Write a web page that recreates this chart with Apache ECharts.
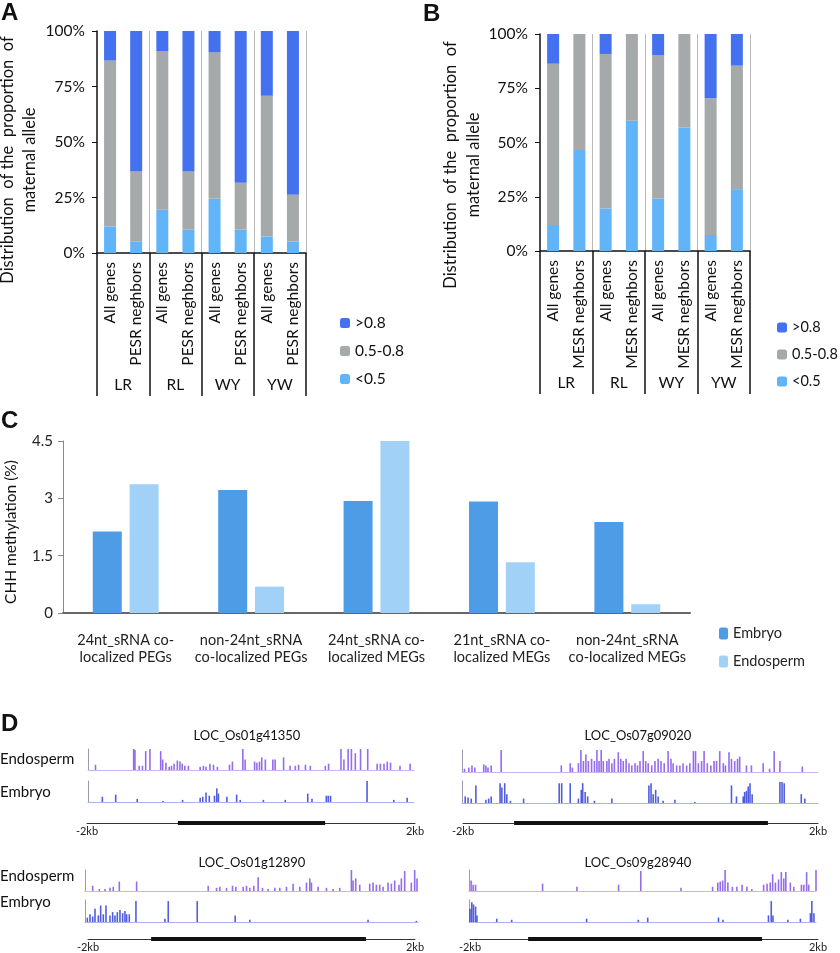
<!DOCTYPE html>
<html>
<head>
<meta charset="utf-8">
<script src="https://cdn.jsdelivr.net/npm/echarts@6/dist/echarts.min.js"></script>
<style>
  html, body { margin: 0; padding: 0; background: #fff; }
  #main { width: 840px; height: 953px; }
</style>
</head>
<body>
<div id="main"></div>
<script>
// ---- panel A / B : distribution of the proportion of maternal allele ----
var groups = ['LR', 'RL', 'WY', 'YW'];
var aCategories = ['All genes', 'PESR neghbors', 'All genes', 'PESR neghbors',
                   'All genes', 'PESR neghbors', 'All genes', 'PESR neghbors'];
var bCategories = ['All genes', 'MESR neghbors', 'All genes', 'MESR neghbors',
                   'All genes', 'MESR neghbors', 'All genes', 'MESR neghbors'];
var legendNames = ['>0.8', '0.5-0.8', '<0.5'];

var aLow  = [12.0, 5.1, 19.5, 10.5, 24.4, 10.5, 7.5, 5.1];
var aMid  = [74.7, 31.6, 71.5, 26.2, 66.0, 21.1, 63.3, 21.1];
var aHigh = [13.3, 63.3, 9.0, 63.3, 9.6, 68.4, 29.2, 73.8];

var bLow  = [12.0, 46.5, 19.6, 60.0, 24.2, 56.9, 7.4, 28.5];
var bMid  = [74.3, 53.5, 71.2, 40.0, 66.0, 43.1, 63.0, 56.9];
var bHigh = [13.7, 0, 9.2, 0, 9.8, 0, 29.6, 14.6];

// ---- panel C : CHH methylation ----
var cCategories = ['24nt_sRNA co-\nlocalized PEGs', 'non-24nt_sRNA\nco-localized PEGs',
                   '24nt_sRNA co-\nlocalized MEGs', '21nt_sRNA co-\nlocalized MEGs',
                   'non-24nt_sRNA\nco-localized MEGs'];
var embryoChh    = [2.13, 3.22, 2.93, 2.92, 2.38];
var endospermChh = [3.37, 0.69, 4.50, 1.33, 0.23];

// ---- panel D : tracks, [position % of window, relative height] ----
var geneNames = ['LOC_Os01g41350', 'LOC_Os07g09020', 'LOC_Os01g12890', 'LOC_Os09g28940'];
var geneBodies = [[27.7, 72.6], [14.4, 85.9], [19.3, 85.0], [16.7, 83.9]];
var windowLabels = ['-2kb', '2kb'];

var endo1 = [[2.3,0.25],[14,1],[14.4,0.95],[15.7,0.2],[16.7,0.2],[17.7,0.9],[19,1],[22.3,0.9],[22.9,0.5],
  [23.9,0.35],[24.9,0.15],[25.6,0.2],[26.4,0.3],[27.4,0.45],[28.2,0.4],[28.9,0.3],[29.7,0.2],[30.8,0.2],
  [34.4,0.15],[35.4,0.2],[36.2,0.15],[37.4,0.3],[38.5,0.25],[39.7,0.15],[43.4,0.25],[44.3,0.4],
  [47.5,1],[48.2,0.5],[51.1,0.4],[51.8,0.35],[52.6,0.4],[53.3,0.6],[54.4,0.5],[56.7,0.5],[57.4,0.5],[60,0.6],
  [62,0.2],[63.6,0.2],[64.6,0.25],[66.7,0.25],[68.2,0.2],[72.8,0.2],[73.8,0.3],
  [77.6,1],[78.5,0.5],[79.8,1],[80.8,1],[82,0.8],[83.6,1],[85.8,1],
  [88.7,0.3],[89.7,0.3],[90.8,0.3],[91.8,0.4],[92.8,0.35],[95.7,0.2],[98.8,0.3]];
var emb1 = [[4.4,0.25],[8.5,0.35],[15.1,0.15],[23,0.05],[29,0.1],[34.4,0.2],[35.2,0.25],[36.2,0.45],[37.2,0.3],
  [38.8,0.3],[39.5,0.65],[40,0.4],[42.6,0.25],[45.6,0.35],[46.7,0.1],[53.8,0.1],[60.5,0.1],
  [67.4,0.4],[68.7,0.15],[73.1,0.3],[73.7,0.3],[74.4,0.3],[85.6,1],[93.8,0.1],[97.9,0.2]];

var endo2 = [[0.7,0.15],[1.9,0.2],[2.8,0.3],[3.6,0.2],[6.1,0.35],[6.7,0.3],[7.3,0.2],[8.2,0.3],[11,1],
  [27.9,0.3],[30.4,0.4],[31,0.2],[32.7,0.4],[33.4,1],[34.1,0.5],[34.8,0.8],[35.5,0.5],[36.4,0.6],[37.2,0.5],
  [37.9,1],[38.5,0.5],[39.1,1],[39.7,0.5],[40.7,0.5],[41.3,0.6],[42.1,0.4],[42.8,0.6],[43.9,0.9],[44.6,0.6],
  [45.3,0.5],[46.1,0.6],[46.9,0.4],[47.7,0.3],[48.6,0.4],[49.3,0.3],[50,0.5],[50.9,0.95],[51.6,0.5],[52.3,0.4],
  [53.3,0.3],[54.2,0.5],[55.1,0.6],[55.9,0.5],[56.8,0.4],[57.9,0.95],[58.7,0.6],[59.3,0.4],[60.3,0.3],[61.2,0.3],
  [62.1,0.4],[63.1,0.3],[64,0.4],[65,0.95],[65.6,0.95],[66.4,0.4],[67.3,0.5],[68,0.95],[68.9,0.4],[69.9,0.3],
  [70.8,0.5],[71.5,0.5],[72.4,0.95],[73.4,0.4],[74,0.3],[75,0.9],[75.7,0.6],[76.6,0.5],[77.4,0.6],[78,0.7],
  [79.9,0.3],[81.3,0.3],[84.6,0.4],[86.4,0.15],[87.7,0.95],[89.3,0.5],[95.6,0.25]];
var emb2 = [[0.9,0.3],[1.7,0.25],[2.6,0.2],[3.9,0.8],[6.7,0.15],[7.5,0.2],[8.2,0.3],[10.7,0.9],[11.2,0.7],
  [12,0.9],[12.6,0.4],[13.6,0.1],[17.3,0.2],[27.3,0.9],[28,0.9],[30.4,0.9],[32.7,0.2],[33.5,0.6],[33.9,0.9],
  [34.6,0.5],[35.3,0.3],[37.2,0.1],[42.1,0.2],[52.5,0.8],[53.1,0.9],[53.7,0.4],[54.4,0.6],[55.1,0.3],
  [56.5,0.1],[59.8,0.15],[65.4,0.05],[75.7,0.8],[77.1,0.3],[79,0.3],[79.4,0.5],[79.9,0.55],[80.4,0.75],
  [80.9,0.9],[81.5,0.4],[89.3,0.95],[89.9,0.95],[90.5,0.9],[95.3,0.4],[96.3,0.2]];

var endo3 = [[2.3,0.25],[4.3,0.1],[6,0.1],[7.5,0.15],[8.5,0.2],[10.3,0.45],[15.5,0.45],[37,0.25],[39.5,0.15],
  [40.5,0.2],[42.5,0.15],[44.3,0.25],[45.3,0.2],[47.5,0.2],[48.5,0.25],[49.5,0.15],[50.7,0.25],[52,0.65],
  [53.3,0.15],[55,0.1],[57,0.15],[58.5,0.15],[60.5,0.2],[62.5,0.35],[64.5,0.2],[66.5,0.4],[67.5,0.6],[68,0.4],
  [70,0.2],[72.5,0.15],[74.5,0.1],[76.5,0.15],[80,1],[80.5,0.5],[81.3,0.6],[82.5,0.3],[85.5,0.35],[86.5,0.4],
  [87.5,0.3],[88.5,0.3],[89.5,0.2],[91,0.4],[92,0.35],[93,0.5],[94.3,0.3],[95,0.6],[96,0.95],[98,0.4],
  [99,1],[99.7,0.6]];
var emb3 = [[0.7,0.2],[1.5,0.35],[2.3,0.25],[3,0.6],[4,0.3],[4.7,0.75],[5.5,0.35],[6.3,0.75],[7.5,0.3],
  [8.3,0.45],[9,0.3],[9.7,0.45],[10.5,0.55],[11.3,0.4],[12,0.5],[12.5,0.35],[13.3,0.35],[15.3,0.95],
  [24,0.15],[25,0.95],[33.7,0.95],[45.1,0.3],[49.5,0.1],[85,0.1],[99.5,0.05]];

var endo4 = [[0.6,0.5],[1.2,0.3],[1.9,0.3],[21.2,0.35],[31.1,0.2],[43.1,0.3],[49.5,0.95],[61.1,0.15],[70.2,0.2],
  [71.7,0.4],[72.4,0.45],[73.1,0.5],[73.8,1],[74.6,0.4],[75.9,0.2],[77.2,0.2],[78.7,0.3],[80.1,0.2],[81.5,0.1],
  [84.9,0.3],[85.9,0.35],[86.8,0.4],[87.5,0.8],[88.3,0.4],[89.2,0.55],[90,0.9],[90.7,0.6],[91.3,0.9],
  [92.6,0.4],[93.6,0.2],[95.8,0.3],[96.5,0.3],[97.3,0.9],[97.9,0.3],[100,1]];
var emb4 = [[0.3,0.6],[0.8,0.9],[1.3,0.8],[1.9,0.7],[2.3,0.3],[8,0.15],[12.3,0.1],[33.9,0.15],[48.8,0.1],
  [51.5,0.2],[71.9,0.2],[73.2,0.1],[86.3,0.3],[87.1,0.95],[87.6,0.3],[91.9,0.1],[95.5,0.15],
  [98.4,0.4],[98.8,0.95],[99.4,0.4]];

var cDark = '#4371EF', cGray = '#A6A9A9', cLight = '#62B4F8';
var cEmbryo = '#4E9CE6', cEndo = '#A2D1F7';
var font = 'Lato';

var chart = echarts.init(document.getElementById('main'));

var grids = [
    {left: 97, top: 31, width: 209, height: 222},
    {left: 540, top: 34, width: 210, height: 217},
    {left: 63, top: 441, width: 627, height: 172}
];
var xAxes = [];
var yAxes = [];
var series = [];

// stacked 100% panels
function stackedPanel(gi, cats, low, mid, high, stackName) {
    var xi = xAxes.length;
    xAxes.push({
        type: 'category', gridIndex: gi, data: cats, position: 'bottom',
        axisLine: {lineStyle: {color: '#111', width: 1.5}},
        axisTick: {show: false},
        axisLabel: {rotate: 90, interval: 0, margin: 9, fontSize: 15.5, color: '#111', fontFamily: font},
        splitLine: {show: true, interval: function (i) { return i === 2 || i === 4 || i === 6; },
                    lineStyle: {color: '#b8b8b8', width: 1}}
    });
    xAxes.push({
        type: 'category', gridIndex: gi, data: groups, position: 'bottom',
        axisLine: {show: false},
        axisTick: {show: true, length: 143, interval: 0, lineStyle: {color: '#111', width: 1.5}},
        axisLabel: {interval: 0, margin: 124, fontSize: 15.5, color: '#111', fontFamily: font},
        splitLine: {show: false}
    });
    var yi = yAxes.length;
    yAxes.push({
        type: 'value', gridIndex: gi, min: 0, max: 100, interval: 25,
        axisLine: {show: true, lineStyle: {color: '#111', width: 1.5}},
        axisTick: {show: true, length: 5, lineStyle: {color: '#111'}},
        axisLabel: {formatter: '{value}%', margin: 12, fontSize: 15.5, color: '#111', fontFamily: font},
        splitLine: {show: false}
    });
    var parts = [['<0.5', low, cLight], ['0.5-0.8', mid, cGray], ['>0.8', high, cDark]];
    parts.forEach(function (p) {
        series.push({
            name: p[0], type: 'bar', stack: stackName, xAxisIndex: xi, yAxisIndex: yi,
            barWidth: 12, data: p[1], itemStyle: {color: p[2]}
        });
    });
}
stackedPanel(0, aCategories, aLow, aMid, aHigh, 'a');
stackedPanel(1, bCategories, bLow, bMid, bHigh, 'b');

// panel C
xAxes.push({
    type: 'category', gridIndex: 2, data: cCategories,
    axisLine: {lineStyle: {color: '#666', width: 2}},
    axisTick: {show: false},
    axisLabel: {interval: 0, margin: 19, fontSize: 14.5, lineHeight: 17, color: '#222', fontFamily: font}
});
yAxes.push({
    type: 'value', gridIndex: 2, min: 0, max: 4.5, interval: 1.5,
    axisLine: {show: true, lineStyle: {color: '#888', width: 1}},
    axisTick: {show: true, length: 5, lineStyle: {color: '#888'}},
    axisLabel: {margin: 10, fontSize: 15, color: '#222', fontFamily: font},
    splitLine: {show: false}
});
series.push({name: 'Embryo', type: 'bar', xAxisIndex: 4, yAxisIndex: 2, barWidth: 29, barGap: '27%',
             data: embryoChh, itemStyle: {color: cEmbryo}});
series.push({name: 'Endosperm', type: 'bar', xAxisIndex: 4, yAxisIndex: 2, barWidth: 29, barGap: '27%',
             data: endospermChh, itemStyle: {color: cEndo}});

// panel D tracks
var trackBoxes = [
    [88, 749, 326, 21, endo1, 'endo'], [88, 781, 326, 21, emb1, 'emb'],
    [462, 750, 356, 22, endo2, 'endo'], [462, 781, 356, 22, emb2, 'emb'],
    [85, 870, 333, 21, endo3, 'endo'], [85, 900, 333, 22, emb3, 'emb'],
    [469, 870, 347, 21, endo4, 'endo'], [469, 900, 347, 22, emb4, 'emb']
];
trackBoxes.forEach(function (t) {
    var gi = grids.length;
    grids.push({left: t[0], top: t[1], width: t[2], height: t[3]});
    var isEndo = t[5] === 'endo';
    var xi = xAxes.length, yi = yAxes.length;
    xAxes.push({type: 'value', gridIndex: gi, min: 0, max: 100,
        axisLine: {show: true, onZero: false, lineStyle: {color: isEndo ? '#CDB4F2' : '#A9B1EE', width: 1}},
        axisTick: {show: false}, axisLabel: {show: false}, splitLine: {show: false}});
    yAxes.push({type: 'value', gridIndex: gi, min: 0, max: 1,
        axisLine: {show: true, lineStyle: {color: '#9c98b0', width: 1}},
        axisTick: {show: false}, axisLabel: {show: false}, splitLine: {show: false}});
    series.push({type: 'bar', xAxisIndex: xi, yAxisIndex: yi, barWidth: 1.6, data: t[4],
        itemStyle: {color: isEndo ? '#8352E6' : '#3341D9', opacity: 0.85}, silent: true});
});

// gene models
var geneBoxes = [[87, 815, 328], [463, 815, 355], [88, 934, 327], [470, 934, 348]];
geneBoxes.forEach(function (g, k) {
    var gi = grids.length;
    grids.push({left: g[0], top: g[1], width: g[2], height: 8});
    var xi = xAxes.length, yi = yAxes.length;
    xAxes.push({type: 'value', gridIndex: gi, min: 0, max: 100, interval: 100,
        axisLine: {show: true, onZero: false, lineStyle: {color: '#333', width: 1}},
        axisTick: {show: false}, splitLine: {show: false},
        axisLabel: {margin: 3, fontSize: 11, color: '#222', fontFamily: font,
            formatter: function (v) { return v === 0 ? windowLabels[0] : windowLabels[1]; }}});
    yAxes.push({type: 'value', gridIndex: gi, min: 0, max: 1, show: false});
    series.push({type: 'line', xAxisIndex: xi, yAxisIndex: yi, symbol: 'none', clip: false, silent: true,
        data: [[geneBodies[k][0], 0], [geneBodies[k][1], 0]],
        lineStyle: {color: '#111', width: 4}});
});

// text labels
function txt(x, y, text, size, extra) {
    var o = {type: 'text', x: x, y: y, silent: true,
        style: {text: text, fontSize: size, fontFamily: font, fill: '#111',
                align: 'left', verticalAlign: 'middle'}};
    if (extra) {
        for (var k in extra) {
            if (k === 'style') { for (var s in extra.style) o.style[s] = extra.style[s]; }
            else o[k] = extra[k];
        }
    }
    return o;
}
var letterStyle = {style: {fontWeight: 'bold', fontFamily: 'Liberation Sans'}};
var yNameA = 'Distribution  of the  proportion  of\nmaternal allele';
var graphics = [
    txt(1, 13, 'A', 24, letterStyle),
    txt(423, 14, 'B', 24, letterStyle),
    txt(1, 421, 'C', 24, letterStyle),
    txt(1, 724, 'D', 24, letterStyle),
    txt(19, 160, yNameA, 16.5, {rotation: Math.PI / 2, style: {align: 'center', lineHeight: 22}}),
    txt(462, 165, yNameA, 16.5, {rotation: Math.PI / 2, style: {align: 'center', lineHeight: 23}}),
    txt(11, 532, 'CHH methylation (%)', 15.5, {rotation: Math.PI / 2, style: {align: 'center'}}),
    txt(247, 736, geneNames[0], 13, {style: {align: 'center'}}),
    txt(638, 736, geneNames[1], 13, {style: {align: 'center'}}),
    txt(252, 863, geneNames[2], 13, {style: {align: 'center'}}),
    txt(638, 863, geneNames[3], 13, {style: {align: 'center'}}),
    txt(0, 759, 'Endosperm', 15),
    txt(0, 792, 'Embryo', 15),
    txt(0, 876, 'Endosperm', 15),
    txt(0, 902, 'Embryo', 15)
];

var option = {
    animation: false,
    textStyle: {fontFamily: font},
    grid: grids,
    xAxis: xAxes,
    yAxis: yAxes,
    legend: [
        {data: legendNames, orient: 'vertical', left: 335, top: 310, itemWidth: 10, itemHeight: 10,
         itemGap: 12, textStyle: {fontSize: 15.5, color: '#111'}, selectedMode: false},
        {data: legendNames, orient: 'vertical', left: 775, top: 315, itemWidth: 10, itemHeight: 10,
         itemGap: 12, textStyle: {fontSize: 14.5, color: '#111'}, selectedMode: false,
         padding: [5, 0, 5, 2]},
        {data: ['Embryo', 'Endosperm'], orient: 'vertical', left: 714, top: 621, itemWidth: 9, itemHeight: 12,
         itemGap: 13, textStyle: {fontSize: 14.5, color: '#222'}, selectedMode: false}
    ],
    graphic: graphics,
    series: series
};
chart.setOption(option);
</script>
</body>
</html>
